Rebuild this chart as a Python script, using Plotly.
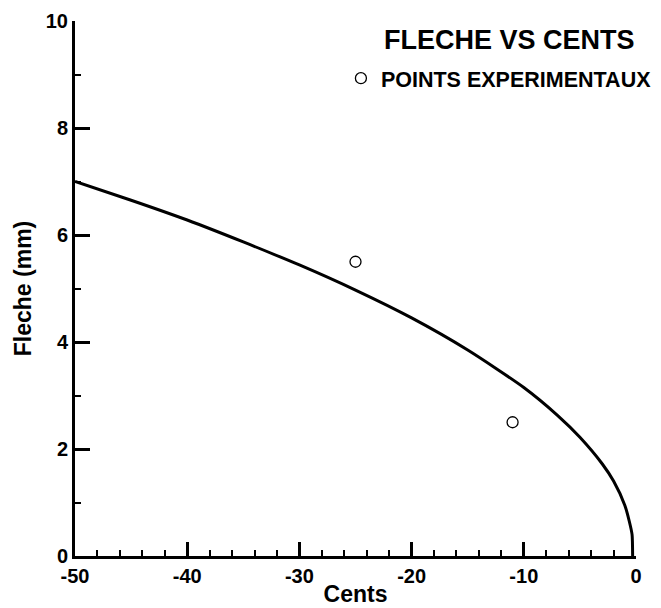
import plotly.graph_objects as go

curve_x = [-50, -45, -40, -35, -30, -25, -20, -15, -10, -7, -5, -3, -2, -1, -0.6, -0.35, -0.3]
curve_y = [7.0, 6.65, 6.28, 5.87, 5.44, 4.97, 4.45, 3.85, 3.15, 2.63, 2.22, 1.72, 1.4, 0.95, 0.65, 0.4, 0.0]

pts_x = [-25, -11]
pts_y = [5.5, 2.5]

fig = go.Figure()
fig.add_trace(go.Scatter(x=curve_x, y=curve_y, mode="lines", line=dict(color="black", width=3, shape="spline", smoothing=0.6),
                         showlegend=False, hoverinfo="skip"))
fig.add_trace(go.Scatter(x=pts_x, y=pts_y, mode="markers", name="POINTS EXPERIMENTAUX",
                         marker=dict(symbol="circle-open", size=11, color="black", line=dict(width=1.3))))

font_b = "Liberation Sans"
fig.update_layout(
    width=661, height=608,
    margin=dict(l=75, r=25, t=21, b=52, autoexpand=False),
    paper_bgcolor="white", plot_bgcolor="white",
    font=dict(family=font_b, color="black"),
    showlegend=True,
    legend=dict(x=0.474, y=0.893, xanchor="left", yanchor="middle", bgcolor="rgba(0,0,0,0)",
                borderwidth=0,
                font=dict(family=font_b, size=21.5, color="black", weight="bold"),
                itemwidth=30),
    annotations=[dict(text="<b>FLECHE VS CENTS</b>", x=0.7745, y=0.9645, xref="paper", yref="paper",
                      xanchor="center", yanchor="middle", showarrow=False,
                      font=dict(family=font_b, size=27, color="black"))],
)
fig.update_xaxes(range=[-50, 0], tickvals=[-50, -40, -30, -20, -10, 0], ticktext=["-50", "-40", "-30", "-20", "-10", "0"],
                 ticks="inside", ticklen=14, tickwidth=3, tickcolor="black",
                 minor=dict(dtick=2, ticks="inside", ticklen=6, tickwidth=1.5, tickcolor="black"),
                 showline=True, linewidth=3, linecolor="black", showgrid=False, zeroline=False,
                 automargin=False,
                 tickfont=dict(family=font_b, size=20, color="black", weight="bold"),
                 title=dict(text="<b>Cents</b>", font=dict(family=font_b, size=23, color="black"), standoff=0))
fig.update_yaxes(range=[0, 10], tickvals=[0, 2, 4, 6, 8, 10],
                 ticks="inside", ticklen=15, tickwidth=3, tickcolor="black",
                 minor=dict(dtick=1, ticks="inside", ticklen=6, tickwidth=1.5, tickcolor="black"),
                 showline=True, linewidth=3, linecolor="black", showgrid=False, zeroline=False,
                 automargin=False,
                 tickfont=dict(family=font_b, size=20, color="black", weight="bold"),
                 title=dict(text="<b>Fleche (mm)</b>", font=dict(family=font_b, size=23, color="black"), standoff=8))

fig.write_html("out.html")
